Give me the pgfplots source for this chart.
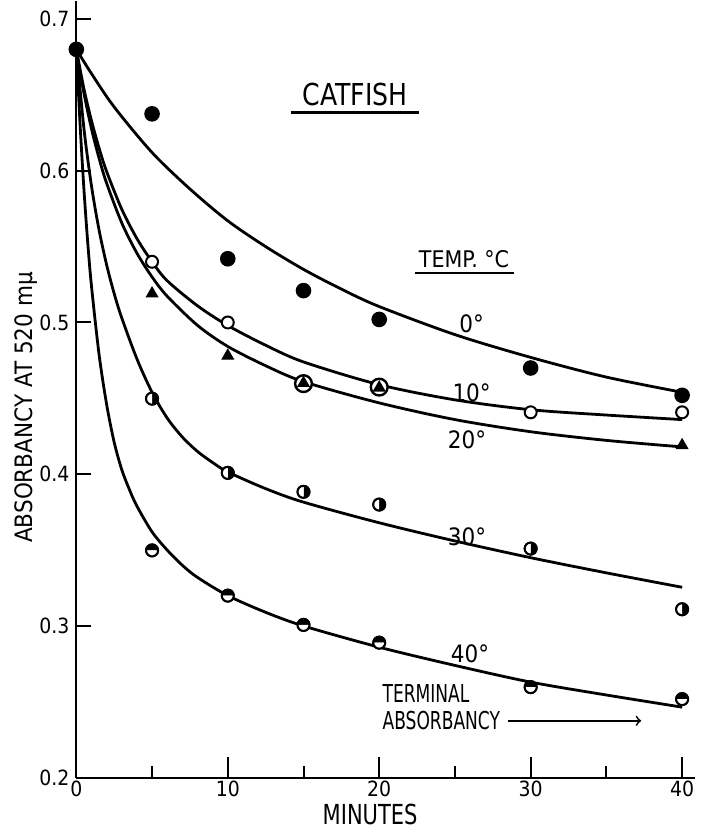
\documentclass[border=0pt]{standalone}
\usepackage{fontspec}
\setmainfont{DejaVu Sans Condensed}
\usepackage{graphicx}
\usepackage{pgfplots}
\pgfplotsset{compat=1.18}
\usetikzlibrary{plotmarks}

% tall lettering as in the original drawing
\newcommand\tall[2][1.15]{\scalebox{1}[#1]{#2}}

% fitted curves
\pgfplotstableread{
x     y
0     0.680
1     0.664
2.5   0.642
5     0.612
7.5   0.588
10    0.567
12.5  0.550
15    0.535
17.5  0.522
20    0.5105
25    0.492
30    0.477
35    0.464
40    0.454
}\curvezero
\pgfplotstableread{
x     y
0     0.680
0.5   0.654
1     0.633
1.5   0.615
2     0.5995
3     0.5746
4     0.5553
5     0.540
6     0.5275
8     0.511
10    0.498
12.5  0.485
15    0.474
20    0.459
25    0.449
30    0.4425
35    0.439
40    0.436
}\curveten
\pgfplotstableread{
x     y
0     0.680
0.5   0.6512
1     0.6277
1.5   0.6083
2     0.5918
3     0.5656
4     0.5457
5     0.530
6     0.5173
8     0.4981
10    0.4842
12.5  0.4715
15    0.461
20    0.447
25    0.436
30    0.428
35    0.4223
40    0.418
}\curvetwenty
\pgfplotstableread{
x     y
0     0.680
0.5   0.628
1     0.590
1.5   0.561
2     0.538
2.5   0.519
3     0.503
4     0.476
5     0.454
6     0.437
7     0.4245
8     0.4150
9     0.4077
10    0.4015
12.5  0.3905
15    0.3816
20    0.368
25    0.356
30    0.345
35    0.335
40    0.3255
}\curvethirty
\pgfplotstableread{
x     y
0     0.680
0.25  0.630
0.5   0.588
0.75  0.553
1     0.524
1.5   0.479
2     0.446
2.5   0.421
3     0.403
3.5   0.390
4     0.379
5     0.362
6     0.350
7     0.340
8     0.332
10    0.320
12.5  0.309
15    0.300
20    0.286
25    0.274
30    0.263
35    0.2545
40    0.2465
}\curveforty

\begin{document}
\begin{tikzpicture}
\begin{axis}[
    x=7.585pt, y=760pt,
    xmin=0, xmax=40.87,
    ymin=0.2, ymax=0.7118,
    axis lines*=left,
    axis line style={line width=1.1pt},
    tick align=inside,
    xtick={0,10,20,30,40},
    minor xtick={5,15,25,35},
    ytick={0.2,0.3,0.4,0.5,0.6,0.7},
    yticklabels={0.2,0.3,0.4,0.5,0.6,0.7},
    xticklabels={0,10,20,30,40},
    major tick length=7.5pt,
    minor tick length=6pt,
    tick style={line width=1pt, black},
    ticklabel style={font=\fontsize{10.5}{10.5}\selectfont},
    xticklabel style={inner ysep=1.5pt},
    /pgf/number format/assume math mode=true,
    xlabel={\tall[1.18]{MINUTES}},
    ylabel={ABSORBANCY AT 520 mμ},
    xlabel style={font=\fontsize{11.7}{11.7}\selectfont, at={(axis cs:19.4,0.1757)}, anchor=center, inner xsep=1pt, inner ysep=2.5pt},
    ylabel style={font=\fontsize{12}{12}\selectfont, at={(axis cs:-3.3,0.444)}, anchor=center, inner xsep=0pt, inner ysep=7.5pt},
    clip=false,
    every axis plot/.append style={line width=1.4pt, black},
]
\addplot[smooth, no marks] table {\curvezero};
\addplot[smooth, no marks] table {\curveten};
\addplot[smooth, no marks] table {\curvetwenty};
\addplot[smooth, no marks] table {\curvethirty};
\addplot[smooth, no marks] table {\curveforty};

% longer major ticks on the time axis
\draw[line width=1pt] (axis cs:10,0.2) -- (axis cs:10,0.2138);
\draw[line width=1pt] (axis cs:20,0.2) -- (axis cs:20,0.2138);
\draw[line width=1pt] (axis cs:30,0.2) -- (axis cs:30,0.2138);
\draw[line width=1pt] (axis cs:40,0.2) -- (axis cs:40,0.2138);

% 0 C
\addplot[only marks, mark=*, mark size=3.2pt] coordinates {
(0,0.680) (5,0.6375) (10,0.542) (15,0.521) (20,0.502) (30,0.470) (40,0.452)};
% 10 C
\addplot[only marks, mark=*, mark size=3pt, mark options={fill=white, line width=1pt}] coordinates {
(5,0.540) (10,0.500) (30,0.4408) (40,0.4408)};
\addplot[only marks, mark=*, mark size=4.2pt, mark options={fill=white, line width=1.2pt}] coordinates {
(15,0.4597) (20,0.4574)};
% 20 C
\addplot[only marks, mark=triangle*, mark size=3.2pt, mark options={line width=0.6pt}] coordinates {
(5,0.519) (10,0.478) (15,0.460) (20,0.457) (40,0.419)};
% 30 C
\addplot[only marks, mark=*, mark size=3pt, mark options={fill=white, line width=1pt}] coordinates {
(5,0.4498) (10,0.4009) (15,0.3884) (20,0.380) (30,0.351) (40,0.311)};
\addplot[only marks, mark=halfcircle*, mark size=3pt, mark options={fill=black, line width=1pt, rotate=-90}] coordinates {
(5,0.4498) (10,0.4009) (15,0.3884) (20,0.380) (30,0.351) (40,0.311)};
% 40 C
\addplot[only marks, mark=*, mark size=3pt, mark options={fill=white, line width=1pt}] coordinates {
(5,0.3498) (10,0.320) (15,0.3007) (20,0.289) (30,0.2597) (40,0.2518)};
\addplot[only marks, mark=halfcircle*, mark size=3pt, mark options={fill=black, line width=1pt}] coordinates {
(5,0.3498) (10,0.320) (15,0.3007) (20,0.289) (30,0.2597) (40,0.2518)};

% annotations
\node[font=\fontsize{14}{14}\selectfont, inner xsep=5.5pt, inner ysep=3pt] (cat) at (axis cs:18.4,0.65) {\tall[1.08]{CATFISH}};
\draw[line width=1.3pt] (cat.south west) -- (cat.south east);
\node[font=\fontsize{11.5}{11.5}\selectfont, inner xsep=2pt, inner ysep=2.5pt] (tmp) at (axis cs:25.6,0.542) {TEMP. °C};
\draw[line width=1.2pt] (tmp.south west) -- (tmp.south east);
\node[font=\fontsize{12}{12}\selectfont] at (axis cs:26.1,0.499) {0°};
\node[font=\fontsize{12}{12}\selectfont] at (axis cs:26.1,0.454) {10°};
\node[font=\fontsize{12}{12}\selectfont] at (axis cs:25.8,0.423) {20°};
\node[font=\fontsize{12}{12}\selectfont] at (axis cs:25.8,0.359) {30°};
\node[font=\fontsize{12}{12}\selectfont] at (axis cs:26.0,0.282) {40°};
\node[font=\fontsize{9.5}{9.5}\selectfont, anchor=west, inner sep=0pt] at (axis cs:20.2,0.2555) {\tall[1.3]{TERMINAL}};
\node[font=\fontsize{9.5}{9.5}\selectfont, anchor=west, inner sep=0pt] at (axis cs:20.2,0.2375) {\tall[1.3]{ABSORBANCY}};
\draw[->, line width=0.9pt] (axis cs:28.5,0.2375) -- (axis cs:37.3,0.2375);
\end{axis}
\end{tikzpicture}
\end{document}
